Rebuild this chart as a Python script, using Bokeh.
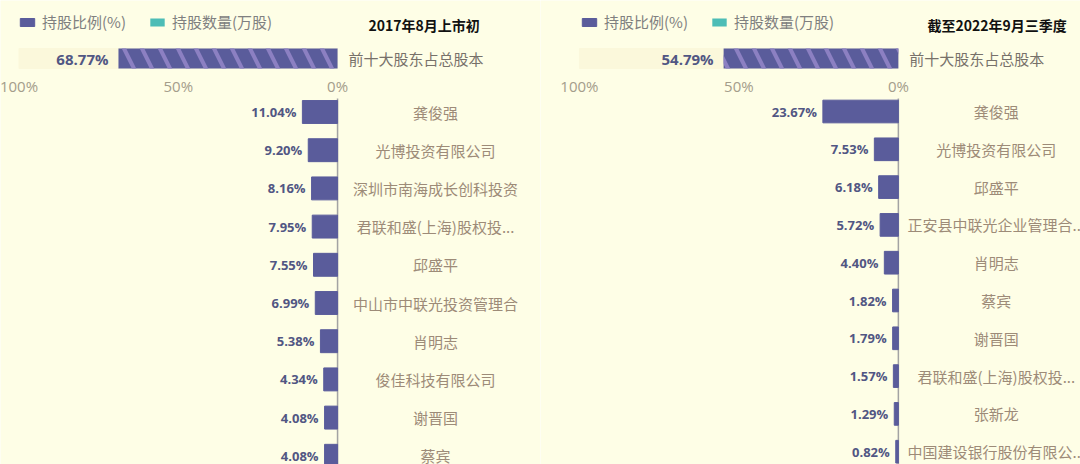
from bokeh.plotting import figure
from bokeh.layouts import row
from bokeh.models import ColumnDataSource, Range1d, Legend, LegendItem, Label
from bokeh.core.properties import value
from bokeh.embed import file_html
from bokeh.resources import INLINE

# ---------------------- DATOS ----------------------
legend_labels = ["持股比例(%)", "持股数量(万股)"]
tick_values = [100, 50, 0]
tick_labels = ["100%", "50%", "0%"]
total_label = "前十大股东占总股本"

titulo_2017 = "2017年8月上市初"
total_2017 = 68.77
nombres_2017 = ["龚俊强", "光博投资有限公司", "深圳市南海成长创科投资", "君联和盛(上海)股权投...",
                "邱盛平", "中山市中联光投资管理合", "肖明志", "俊佳科技有限公司", "谢晋国", "蔡宾"]
pct_2017 = [11.04, 9.20, 8.16, 7.95, 7.55, 6.99, 5.38, 4.34, 4.08, 4.08]

titulo_2022 = "截至2022年9月三季度"
total_2022 = 54.79
nombres_2022 = ["龚俊强", "光博投资有限公司", "邱盛平", "正安县中联光企业管理合...", "肖明志",
                "蔡宾", "谢晋国", "君联和盛(上海)股权投...", "张新龙", "中国建设银行股份有限公..."]
pct_2022 = [23.67, 7.53, 6.18, 5.72, 4.40, 1.82, 1.79, 1.57, 1.29, 0.82]

# 持股数量 no se dibuja en el grafico, solo aparece en la leyenda
cantidad_vacia = [0]

# colores
BG = "#fefee6"
PALE = "#fbf8db"
BAR = "#5a5c9b"
HATCH = "#8c80c2"
TEAL = "#4dbdb6"
VAL = "#515683"
NAME = "#9d8b78"
TICK = "#a49d8b"
CJK = "Noto Sans CJK SC"
NUM = "Open Sans"

W, H = 540, 464


def panel(titulo, total, nombres, pct, x_start, x_end, fila0, paso, leyenda_x, titulo_x):
    # fila0 / paso en pixeles: centro de la primera fila y distancia entre filas
    top = (0 - fila0) / paso
    bottom = (H - fila0) / paso
    y_tot = (58 - fila0) / paso
    y_tick = (85 - fila0) / paso

    p = figure(width=W, height=H, x_range=Range1d(x_start, x_end), y_range=Range1d(bottom, top),
               output_backend="svg", toolbar_location=None, min_border=0)
    p.axis.visible = False
    p.grid.visible = False
    p.outline_line_color = None
    p.background_fill_color = BG
    p.border_fill_color = BG

    src = ColumnDataSource(dict(
        y=list(range(len(nombres))),
        pct=pct,
        nombre=nombres,
        etiqueta=[f"{v:.2f}%" for v in pct],
    ))

    # barra total (fondo 100% + barra rayada)
    p.hbar(y=[y_tot], left=0, right=[100], height=20 / paso, color=PALE)
    p.hbar(y=[y_tot], left=0, right=[total], height=20 / paso, fill_color=BAR, line_color=None,
           hatch_pattern="\\", hatch_color=HATCH, hatch_weight=4, hatch_scale=36)
    p.text(x=[total], y=[y_tot], text=[f"{total:.2f}%"], x_offset=-10, text_align="right",
           text_baseline="middle", text_font=value(NUM), text_font_style="bold",
           text_font_size="15px", text_color=VAL)
    p.text(x=[0], y=[y_tot], text=[total_label], x_offset=11, text_align="left",
           text_baseline="middle", text_font=value(CJK), text_font_size="15px", text_color="#77716a")

    # etiquetas del eje
    p.text(x=tick_values, y=[y_tick] * len(tick_values), text=tick_labels, text_align="center",
           text_baseline="middle", text_font=value(NUM), text_font_size="15px", text_color=TICK)

    # linea del eje en 0%
    p.segment(x0=[0], y0=[(98 - fila0) / paso], x1=[0], y1=[len(nombres)], color="#a3a3a3", line_width=1.5)

    bars = p.hbar(y="y", left=0, right="pct", height=0.6, source=src, color=BAR)
    p.text(x="pct", y="y", text="etiqueta", x_offset=-6, text_align="right", text_baseline="middle",
           text_font=value(NUM), text_font_style="bold", text_font_size="13px", text_color=VAL, source=src)
    p.text(x=0, y="y", text="nombre", x_offset=98, text_align="center", text_baseline="middle",
           text_font=value(CJK), text_font_size="15px", text_color=NAME, source=src)

    # serie 持股数量 (sin valores visibles)
    teal = p.hbar(y=[0], left=0, right=cantidad_vacia, height=0.6, fill_color=TEAL, line_color=None)

    legend = Legend(items=[LegendItem(label=legend_labels[0], renderers=[bars]),
                           LegendItem(label=legend_labels[1], renderers=[teal])],
                    location=(leyenda_x, 432), orientation="horizontal",
                    glyph_width=18, glyph_height=10, label_standoff=6, spacing=22,
                    padding=0, margin=0, border_line_color=None, background_fill_alpha=0,
                    label_text_font=CJK, label_text_font_size="15px", label_text_color="#808080",
                    label_height=20)
    p.add_layout(legend)

    p.add_layout(Label(x=titulo_x, y=440, x_units="screen", y_units="screen", text=titulo,
                       text_font=CJK, text_font_style="bold", text_font_size="14px",
                       text_color="#111111", text_baseline="middle"))
    return p


p1 = panel(titulo_2017, total_2017, nombres_2017, pct_2017, 105.8, -63.7, 111.5, 38.2, 18, 368)
p2 = panel(titulo_2022, total_2022, nombres_2022, pct_2022, 112.2, -57.1, 111, 37.8, 40, 387)

layout = row(p1, p2)
html = file_html(layout, INLINE, title="十大股东")
html = html.replace("<body>", '<body style="background-color:%s;">' % BG, 1)
open("out.html", "w").write(html)
